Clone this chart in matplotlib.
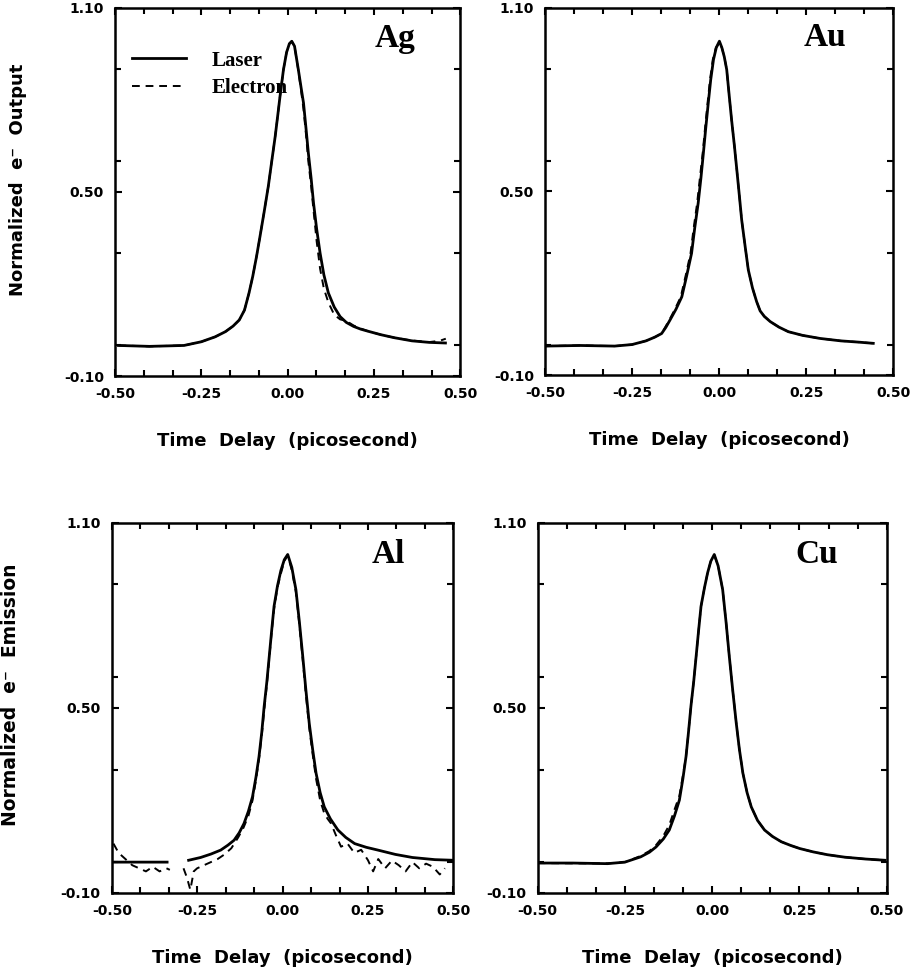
import numpy as np
import matplotlib
matplotlib.use("Agg")
import matplotlib.pyplot as plt
from matplotlib.ticker import MultipleLocator

# Data (time delay in ps, normalized output)
ag_laser_x = [-0.49, -0.40, -0.30, -0.25, -0.21, -0.18, -0.158, -0.14, -0.125, -0.112, -0.101, -0.090, -0.080,
              -0.068, -0.056, -0.046, -0.036, -0.028, -0.022, -0.012, -0.003, 0.005, 0.012, 0.020, 0.031, 0.039,
              0.046, 0.053, 0.060, 0.068, 0.075, 0.084, 0.094, 0.105, 0.118, 0.135, 0.152, 0.17, 0.191, 0.212,
              0.234, 0.27, 0.31, 0.36, 0.41, 0.457]
ag_laser_y = [0.0, -0.003, 0.0, 0.012, 0.028, 0.045, 0.063, 0.083, 0.115, 0.17, 0.225, 0.29, 0.355,
              0.435, 0.518, 0.60, 0.681, 0.755, 0.812, 0.899, 0.955, 0.983, 0.991, 0.975, 0.899, 0.84,
              0.79, 0.71, 0.627, 0.545, 0.464, 0.38, 0.301, 0.23, 0.171, 0.125, 0.094, 0.075, 0.062, 0.053,
              0.046, 0.035, 0.025, 0.015, 0.01, 0.008]
ag_elec_x = [-0.49, -0.40, -0.30, -0.25, -0.21, -0.18, -0.158, -0.14, -0.125, -0.112, -0.101, -0.090, -0.080,
             -0.068, -0.056, -0.046, -0.036, -0.028, -0.022, -0.012, -0.003, 0.005, 0.012, 0.020, 0.031, 0.039,
             0.046, 0.053, 0.060, 0.068, 0.075, 0.084, 0.094, 0.105, 0.118, 0.135, 0.152, 0.17, 0.191, 0.212,
             0.234, 0.27, 0.31, 0.36, 0.41, 0.44, 0.458]
ag_elec_y = [0.0, -0.003, 0.0, 0.012, 0.028, 0.045, 0.063, 0.083, 0.115, 0.17, 0.225, 0.29, 0.355,
             0.435, 0.518, 0.60, 0.681, 0.755, 0.812, 0.899, 0.955, 0.983, 0.991, 0.975, 0.895, 0.83,
             0.77, 0.69, 0.60, 0.52, 0.44, 0.34, 0.25, 0.185, 0.14, 0.10, 0.085, 0.08, 0.065, 0.055,
             0.046, 0.035, 0.025, 0.016, 0.011, 0.015, 0.022]

au_laser_x = [-0.50, -0.40, -0.30, -0.25, -0.21, -0.185, -0.165, -0.153, -0.141, -0.124, -0.107, -0.093, -0.079,
              -0.070, -0.060, -0.052, -0.045, -0.038, -0.031, -0.024, -0.016, -0.008, 0.001, 0.008, 0.015, 0.022,
              0.029, 0.036, 0.044, 0.051, 0.058, 0.065, 0.075, 0.084, 0.096, 0.108, 0.118, 0.13, 0.147, 0.172,
              0.199, 0.24, 0.29, 0.35, 0.40, 0.443]
au_laser_y = [-0.005, -0.003, -0.005, 0.0, 0.012, 0.024, 0.036, 0.056, 0.080, 0.115, 0.156, 0.225, 0.298,
              0.38, 0.462, 0.545, 0.626, 0.71, 0.789, 0.865, 0.931, 0.97, 0.991, 0.97, 0.94, 0.898,
              0.815, 0.734, 0.65, 0.571, 0.49, 0.407, 0.32, 0.244, 0.185, 0.14, 0.11, 0.092, 0.075, 0.057,
              0.042, 0.03, 0.02, 0.012, 0.008, 0.004]
au_elec_x = [-0.50, -0.40, -0.30, -0.25, -0.21, -0.185, -0.165, -0.155, -0.143, -0.127, -0.110, -0.096, -0.082,
             -0.073, -0.063, -0.055, -0.047, -0.040, -0.033, -0.026, -0.018, -0.009, 0.001, 0.008, 0.015, 0.022,
             0.029, 0.036, 0.044, 0.051, 0.058, 0.065, 0.075, 0.084, 0.096, 0.108, 0.118, 0.13, 0.147, 0.172,
             0.199, 0.24, 0.29, 0.35, 0.40, 0.443]
au_elec_y = [-0.005, -0.003, -0.005, 0.0, 0.012, 0.024, 0.036, 0.056, 0.080, 0.115, 0.156, 0.225, 0.298,
             0.38, 0.462, 0.545, 0.626, 0.71, 0.789, 0.865, 0.931, 0.97, 0.985, 0.97, 0.94, 0.898,
             0.815, 0.734, 0.65, 0.571, 0.49, 0.407, 0.32, 0.244, 0.185, 0.14, 0.11, 0.092, 0.075, 0.057,
             0.042, 0.03, 0.02, 0.012, 0.008, 0.004]

al_laser_x = [-0.495, -0.42, -0.338, np.nan, -0.275, -0.24, -0.21, -0.181, -0.16, -0.142, -0.127, -0.113, -0.10,
              -0.088, -0.078, -0.069, -0.061, -0.054, -0.046, -0.039, -0.032, -0.025, -0.015, -0.005, 0.005,
              0.015, 0.027, 0.039, 0.049, 0.059, 0.068, 0.078, 0.088, 0.098, 0.11, 0.122, 0.14, 0.162, 0.185,
              0.211, 0.245, 0.279, 0.33, 0.38, 0.446, 0.50]
al_laser_y = [0.0, 0.0, 0.0, np.nan, 0.006, 0.015, 0.026, 0.039, 0.055, 0.071, 0.095, 0.125, 0.165,
              0.212, 0.275, 0.342, 0.42, 0.504, 0.585, 0.667, 0.75, 0.829, 0.895, 0.945, 0.98,
              0.997, 0.955, 0.883, 0.78, 0.667, 0.56, 0.45, 0.365, 0.288, 0.225, 0.179, 0.14, 0.104, 0.08,
              0.06, 0.048, 0.039, 0.025, 0.015, 0.008, 0.006]
al_elec_x = [-0.495, -0.48, -0.46, -0.44, -0.42, -0.40, -0.38, -0.36, -0.34, -0.33, np.nan, -0.29, -0.28,
             -0.27, -0.26, -0.25, -0.23, -0.21, -0.19, -0.17, -0.15, -0.13, -0.115, -0.10, -0.088, -0.078,
             -0.069, -0.061, -0.054, -0.046, -0.039, -0.032, -0.025, -0.015, -0.005, 0.005, 0.015, 0.027,
             0.039, 0.049, 0.059, 0.068, 0.078, 0.088, 0.098, 0.11, 0.122, 0.132, 0.142, 0.155, 0.171, 0.19,
             0.21, 0.23, 0.25, 0.265, 0.28, 0.30, 0.32, 0.34, 0.36, 0.38, 0.40, 0.42, 0.44, 0.46, 0.475]
al_elec_y = [0.06, 0.03, 0.01, -0.01, -0.02, -0.03, -0.015, -0.03, -0.02, -0.025, np.nan, -0.02, -0.05,
             -0.09, -0.03, -0.02, -0.01, 0.0, 0.01, 0.025, 0.045, 0.08, 0.11, 0.15, 0.20, 0.265,
             0.335, 0.41, 0.49, 0.575, 0.66, 0.745, 0.82, 0.89, 0.935, 0.975, 0.995, 0.945,
             0.875, 0.77, 0.655, 0.545, 0.435, 0.35, 0.27, 0.20, 0.158, 0.14, 0.125, 0.09, 0.05, 0.06,
             0.03, 0.04, 0.006, -0.03, 0.01, -0.02, 0.005, -0.01, -0.03, 0.0, -0.02, -0.005, -0.015, -0.04, -0.02]

cu_laser_x = [-0.50, -0.40, -0.30, -0.25, -0.205, -0.18, -0.161, -0.14, -0.123, -0.108, -0.094, -0.084, -0.075,
              -0.068, -0.061, -0.053, -0.046, -0.039, -0.032, -0.022, -0.013, -0.004, 0.006, 0.017, 0.030,
              0.040, 0.049, 0.059, 0.069, 0.078, 0.088, 0.10, 0.112, 0.13, 0.15, 0.173, 0.198, 0.225, 0.251,
              0.29, 0.33, 0.38, 0.44, 0.495]
cu_laser_y = [-0.003, -0.003, -0.005, 0.0, 0.017, 0.032, 0.049, 0.075, 0.104, 0.15, 0.201, 0.27, 0.342,
              0.42, 0.504, 0.585, 0.667, 0.75, 0.829, 0.89, 0.938, 0.975, 0.997, 0.96, 0.883,
              0.775, 0.667, 0.555, 0.45, 0.365, 0.288, 0.225, 0.179, 0.135, 0.104, 0.083, 0.066, 0.054, 0.044,
              0.033, 0.024, 0.016, 0.01, 0.006]
cu_elec_x = [-0.50, -0.40, -0.30, -0.25, -0.205, -0.18, -0.161, -0.14, -0.123, -0.108, -0.094, -0.084, -0.075,
             -0.068, -0.061, -0.053, -0.046, -0.039, -0.032, -0.022, -0.013, -0.004, 0.006, 0.017, 0.030,
             0.040, 0.049, 0.059, 0.069, 0.078, 0.088, 0.10, 0.112, 0.13, 0.15, 0.173, 0.198, 0.225, 0.251,
             0.29, 0.33, 0.38, 0.44, 0.495]
cu_elec_y = [-0.003, -0.004, -0.004, 0.0, 0.02, 0.036, 0.055, 0.085, 0.12, 0.17, 0.215, 0.28, 0.342,
             0.42, 0.504, 0.585, 0.667, 0.75, 0.829, 0.89, 0.938, 0.975, 0.995, 0.96, 0.883,
             0.775, 0.667, 0.555, 0.45, 0.365, 0.288, 0.225, 0.179, 0.135, 0.104, 0.083, 0.066, 0.054, 0.044,
             0.033, 0.024, 0.016, 0.01, 0.006]

metals = ["Ag", "Au", "Al", "Cu"]
x_ticks = [-0.50, -0.25, 0.00, 0.25, 0.50]
y_ticks = [-0.10, 0.50, 1.10]
x_label = "Time  Delay  (picosecond)"
y_labels = ["Normalized  e\u207b  Output", "Normalized  e\u207b  Emission"]

plt.rcParams['axes.unicode_minus'] = False

fig = plt.figure(figsize=(9.16, 9.77), dpi=100)
rects = [[0.1255, 0.615, 0.377, 0.377],
         [0.595, 0.616, 0.380, 0.376],
         [0.122, 0.086, 0.373, 0.379],
         [0.587, 0.086, 0.381, 0.379]]
label_pos = [(0.81, 0.918), (0.805, 0.92), (0.81, 0.913), (0.80, 0.913)]

data = [(ag_laser_x, ag_laser_y, ag_elec_x, ag_elec_y),
        (au_laser_x, au_laser_y, au_elec_x, au_elec_y),
        (al_laser_x, al_laser_y, al_elec_x, al_elec_y),
        (cu_laser_x, cu_laser_y, cu_elec_x, cu_elec_y)]

axes = []
for i in range(4):
    ax = fig.add_axes(rects[i])
    lx, ly, ex, ey = data[i]
    ax.plot(lx, ly, color="black", linewidth=2.0, label="Laser", solid_joinstyle="round")
    ax.plot(ex, ey, color="black", linewidth=1.4, linestyle=(0, (4, 3)), label="Electron")

    ax.set_xlim(-0.5, 0.5)
    ax.set_ylim(-0.1, 1.1)
    ax.set_xticks(x_ticks)
    ax.set_yticks(y_ticks)
    ax.set_xticklabels(["%.2f" % v for v in x_ticks])
    ax.set_yticklabels(["%.2f" % v for v in y_ticks])
    ax.xaxis.set_minor_locator(MultipleLocator(0.25 / 3))
    ax.yaxis.set_minor_locator(MultipleLocator(0.30))
    ax.tick_params(which="both", direction="in", top=True, right=True, width=1.5)
    ax.tick_params(which="major", length=5, labelsize=10, pad=8)
    ax.tick_params(which="minor", length=4)
    for t in ax.get_xticklabels() + ax.get_yticklabels():
        t.set_fontweight("bold")
    for s in ax.spines.values():
        s.set_linewidth(1.8)

    ax.set_xlabel(x_label, fontsize=13, fontweight="bold", labelpad=22)
    ax.text(label_pos[i][0], label_pos[i][1], metals[i], transform=ax.transAxes,
            ha="center", va="center", fontsize=24, fontweight="bold", family="Liberation Serif")
    axes.append(ax)

# legend only in the Ag panel
axes[0].legend(loc="upper left", bbox_to_anchor=(-0.005, 0.935), frameon=False,
               handlelength=2.6, handletextpad=1.2, labelspacing=0.35,
               prop={"family": "Liberation Serif", "weight": "bold", "size": 15})

fig.text(0.02, 0.816, y_labels[0], rotation=90, ha="center", va="center",
         fontsize=13, fontweight="bold")
fig.text(0.012, 0.289, y_labels[1], rotation=90, ha="center", va="center",
         fontsize=13.5, fontweight="bold")

fig.savefig("out.png", dpi=100)
